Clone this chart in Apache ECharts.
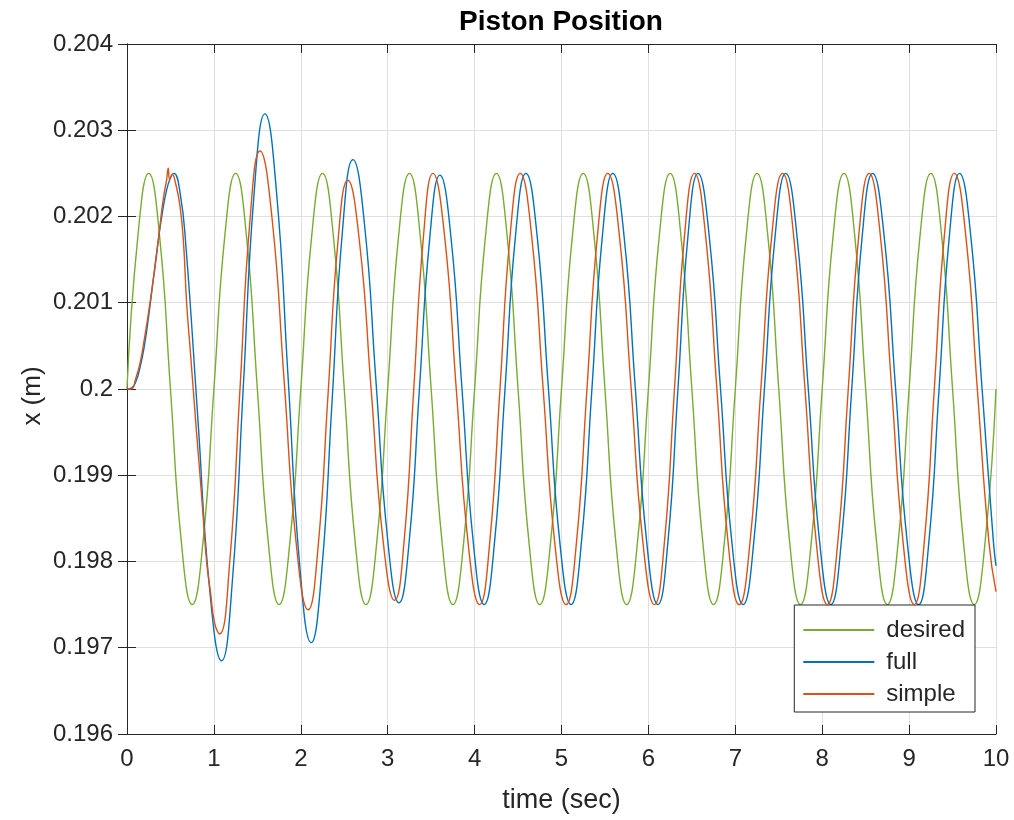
<!DOCTYPE html>
<html>
<head>
<meta charset="utf-8">
<title>Piston Position</title>
<script src="https://cdn.jsdelivr.net/npm/echarts@6/dist/echarts.min.js"></script>
<style>
  html, body { margin: 0; padding: 0; background: #ffffff; }
  #chart { width: 1014px; height: 820px; }
</style>
</head>
<body>
<div id="chart"></div>
<script>
// Piston position x (m) against time (sec): [time, position] samples.
const seriesNames = ['desired', 'full', 'simple'];

const desired = [
  [0, 0.2], [0.125, 0.20177], [0.25, 0.2025], [0.375, 0.20177], [0.5, 0.2], [0.625, 0.19823], [0.75, 0.1975], [0.875, 0.19823],
  [1, 0.2], [1.125, 0.20177], [1.25, 0.2025], [1.375, 0.20177], [1.5, 0.2], [1.625, 0.19823], [1.75, 0.1975], [1.875, 0.19823],
  [2, 0.2], [2.125, 0.20177], [2.25, 0.2025], [2.375, 0.20177], [2.5, 0.2], [2.625, 0.19823], [2.75, 0.1975], [2.875, 0.19823],
  [3, 0.2], [3.125, 0.20177], [3.25, 0.2025], [3.375, 0.20177], [3.5, 0.2], [3.625, 0.19823], [3.75, 0.1975], [3.875, 0.19823],
  [4, 0.2], [4.125, 0.20177], [4.25, 0.2025], [4.375, 0.20177], [4.5, 0.2], [4.625, 0.19823], [4.75, 0.1975], [4.875, 0.19823],
  [5, 0.2], [5.125, 0.20177], [5.25, 0.2025], [5.375, 0.20177], [5.5, 0.2], [5.625, 0.19823], [5.75, 0.1975], [5.875, 0.19823],
  [6, 0.2], [6.125, 0.20177], [6.25, 0.2025], [6.375, 0.20177], [6.5, 0.2], [6.625, 0.19823], [6.75, 0.1975], [6.875, 0.19823],
  [7, 0.2], [7.125, 0.20177], [7.25, 0.2025], [7.375, 0.20177], [7.5, 0.2], [7.625, 0.19823], [7.75, 0.1975], [7.875, 0.19823],
  [8, 0.2], [8.125, 0.20177], [8.25, 0.2025], [8.375, 0.20177], [8.5, 0.2], [8.625, 0.19823], [8.75, 0.1975], [8.875, 0.19823],
  [9, 0.2], [9.125, 0.20177], [9.25, 0.2025], [9.375, 0.20177], [9.5, 0.2], [9.625, 0.19823], [9.75, 0.1975], [9.875, 0.19823],
  [10, 0.2]
];

const full = [
  [0, 0.2], [0.05, 0.20001], [0.1, 0.20008], [0.15, 0.20025], [0.2, 0.2005], [0.25, 0.20085], [0.3, 0.20125],
  [0.35, 0.20165], [0.4, 0.202], [0.45, 0.20228], [0.5, 0.20245], [0.54, 0.2025], [0.61, 0.20228],
  [0.677, 0.20167], [0.814, 0.19968], [0.951, 0.19768], [1.088, 0.19685],
  [1.213, 0.19778], [1.338, 0.20002], [1.462, 0.20226], [1.587, 0.20319],
  [1.72, 0.20229], [1.854, 0.20013], [1.987, 0.19796], [2.12, 0.19706],
  [2.24, 0.19788], [2.36, 0.19986], [2.48, 0.20184], [2.6, 0.20266],
  [2.733, 0.20191], [2.865, 0.20009], [2.998, 0.19827], [3.13, 0.19752],
  [3.248, 0.19824], [3.365, 0.2], [3.483, 0.20174], [3.6, 0.20248],
  [3.728, 0.20176], [3.855, 0.2], [3.983, 0.19824], [4.11, 0.1975],
  [4.23, 0.19823], [4.35, 0.2], [4.47, 0.20177], [4.59, 0.2025],
  [4.72, 0.20177], [4.85, 0.2], [4.98, 0.19823], [5.11, 0.1975],
  [5.23, 0.19823], [5.35, 0.2], [5.47, 0.20177], [5.59, 0.2025],
  [5.72, 0.20177], [5.85, 0.2], [5.98, 0.19823], [6.11, 0.1975],
  [6.225, 0.19823], [6.34, 0.2], [6.455, 0.20177], [6.57, 0.2025],
  [6.7, 0.20177], [6.83, 0.2], [6.96, 0.19823], [7.09, 0.1975],
  [7.213, 0.19823], [7.335, 0.2], [7.458, 0.20177], [7.58, 0.2025],
  [7.71, 0.20177], [7.84, 0.2], [7.97, 0.19823], [8.1, 0.1975],
  [8.22, 0.19823], [8.34, 0.2], [8.46, 0.20177], [8.58, 0.2025],
  [8.713, 0.20177], [8.845, 0.2], [8.978, 0.19823], [9.11, 0.1975],
  [9.228, 0.19823], [9.345, 0.2], [9.463, 0.20177], [9.58, 0.2025],
  [9.71, 0.20177], [9.84, 0.2], [9.97, 0.19823], [10, 0.19795]
];

const simple = [
  [0, 0.2], [0.05, 0.2], [0.1, 0.20012], [0.15, 0.2003], [0.2, 0.20058], [0.25, 0.2009], [0.3, 0.20125],
  [0.34, 0.20155], [0.38, 0.2019], [0.42, 0.20222], [0.455, 0.20242], [0.475, 0.20256], [0.49, 0.20243], [0.52, 0.20249],
  [0.56, 0.20238], [0.61, 0.20212], [0.65, 0.2017], [0.686, 0.201], [0.724, 0.2005], [0.762, 0.2], [0.8, 0.1995],
  [0.84, 0.199], [0.878, 0.1985], [0.916, 0.198], [0.96, 0.19765], [1.01, 0.19728], [1.065, 0.19716],
  [1.181, 0.19798], [1.298, 0.19996], [1.414, 0.20194], [1.53, 0.20276],
  [1.669, 0.20198], [1.808, 0.2001], [1.946, 0.19822], [2.085, 0.19744],
  [2.199, 0.19817], [2.313, 0.19993], [2.426, 0.20169], [2.54, 0.20242],
  [2.675, 0.20171], [2.81, 0.19999], [2.945, 0.19826], [3.08, 0.19755],
  [3.19, 0.19825], [3.3, 0.2], [3.41, 0.20175], [3.52, 0.2025],
  [3.655, 0.20177], [3.789, 0.2], [3.924, 0.19823], [4.058, 0.1975],
  [4.175, 0.19823], [4.292, 0.2], [4.408, 0.20177], [4.525, 0.2025],
  [4.657, 0.20177], [4.789, 0.2], [4.921, 0.19823], [5.053, 0.1975],
  [5.173, 0.19823], [5.293, 0.2], [5.413, 0.20177], [5.533, 0.2025],
  [5.667, 0.20177], [5.802, 0.2], [5.936, 0.19823], [6.07, 0.1975],
  [6.185, 0.19823], [6.3, 0.2], [6.415, 0.20177], [6.53, 0.2025],
  [6.659, 0.20177], [6.788, 0.2], [6.916, 0.19823], [7.045, 0.1975],
  [7.17, 0.19823], [7.294, 0.2], [7.419, 0.20177], [7.543, 0.2025],
  [7.672, 0.20177], [7.802, 0.2], [7.931, 0.19823], [8.06, 0.1975],
  [8.18, 0.19823], [8.3, 0.2], [8.42, 0.20177], [8.54, 0.2025],
  [8.67, 0.20177], [8.8, 0.2], [8.93, 0.19823], [9.06, 0.1975],
  [9.175, 0.19823], [9.29, 0.2], [9.405, 0.20177], [9.52, 0.2025],
  [9.653, 0.20177], [9.785, 0.2], [9.918, 0.19823], [10, 0.19765]
];

// Axis ranges and tick spacing
const xRange = [0, 10];
const xStep = 1;
const yRange = [0.196, 0.204];
const yStep = 0.001;

const colors = ['#77AC30', '#0072BD', '#D95319'];
const axisColor = '#262626';
const gridColor = '#e0e0e0';
const font = '"Liberation Sans", Arial, Helvetica, sans-serif';

const chart = echarts.init(document.getElementById('chart'), null, { renderer: 'canvas' });

const grid = { left: 127, right: 18, top: 44, bottom: 86 };

// Top and right axes close the plot box with inward ticks only
function frameAxis(extra) {
  return Object.assign({
    axisLine: { show: true, lineStyle: { color: axisColor, width: 1 } },
    axisTick: { show: true, inside: true, length: 9, lineStyle: { color: axisColor, width: 1 } },
    axisLabel: { show: false },
    splitLine: { show: false }
  }, extra);
}

const option = {
  animation: false,
  backgroundColor: '#ffffff',
  color: colors,
  textStyle: { fontFamily: font },
  grid: grid,
  graphic: [
    {
      type: 'text',
      x: 561,
      y: 22,
      style: {
        text: 'Piston Position',
        font: 'bold 28px ' + font,
        fill: '#000000',
        align: 'center',
        verticalAlign: 'middle'
      }
    },
    {
      type: 'text',
      x: 33,
      y: 396,
      rotation: Math.PI / 2,
      style: {
        text: 'x (m)',
        font: '26px ' + font,
        fill: axisColor,
        align: 'center',
        verticalAlign: 'middle'
      }
    }
  ],
  legend: {
    data: seriesNames.map(function (n) { return { name: n, icon: 'rect' }; }),
    orient: 'vertical',
    right: 39,
    top: 605,
    padding: [13, 10, 6, 9],
    itemGap: 8,
    itemWidth: 71,
    itemHeight: 2,
    backgroundColor: '#ffffff',
    borderColor: axisColor,
    borderWidth: 1,
    borderRadius: 0,
    textStyle: { fontSize: 24, color: axisColor, fontFamily: font, padding: [0, 0, 0, 7], lineHeight: 24 }
  },
  xAxis: [
    {
      type: 'value',
      min: xRange[0], max: xRange[1], interval: xStep,
      name: 'time (sec)',
      nameLocation: 'middle',
      nameGap: 53,
      nameTextStyle: { fontSize: 27, color: axisColor, fontFamily: font },
      axisLine: { show: true, onZero: false, lineStyle: { color: axisColor, width: 1 } },
      axisTick: { show: true, inside: true, length: 9, lineStyle: { color: axisColor } },
      axisLabel: { fontSize: 24, color: axisColor, margin: 13, fontFamily: font },
      splitLine: { show: true, lineStyle: { color: gridColor, width: 1 } }
    },
    frameAxis({ type: 'value', position: 'top', min: xRange[0], max: xRange[1], interval: xStep })
  ],
  yAxis: [
    {
      type: 'value',
      min: yRange[0], max: yRange[1], interval: yStep,
      axisLine: { show: true, onZero: false, lineStyle: { color: axisColor, width: 1 } },
      axisTick: { show: true, inside: true, length: 9, lineStyle: { color: axisColor } },
      axisLabel: {
        fontSize: 24, color: axisColor, margin: 14, fontFamily: font,
        padding: [5, 0, 0, 0],
        formatter: function (v) { return String(parseFloat(v.toFixed(3))); }
      },
      splitLine: { show: true, lineStyle: { color: gridColor, width: 1 } }
    },
    frameAxis({ type: 'value', position: 'right', min: yRange[0], max: yRange[1], interval: yStep })
  ],
  series: [
    { name: seriesNames[0], data: desired },
    { name: seriesNames[1], data: full },
    { name: seriesNames[2], data: simple }
  ].map(function (s, i) {
    return {
      name: s.name,
      type: 'line',
      xAxisIndex: 0,
      yAxisIndex: 0,
      data: s.data,
      smooth: 0.5,
      symbol: 'none',
      showSymbol: false,
      clip: true,
      lineStyle: { color: colors[i], width: 1.4 },
      itemStyle: { color: colors[i] },
      z: 2 + i
    };
  })
};

chart.setOption(option);
</script>
</body>
</html>
